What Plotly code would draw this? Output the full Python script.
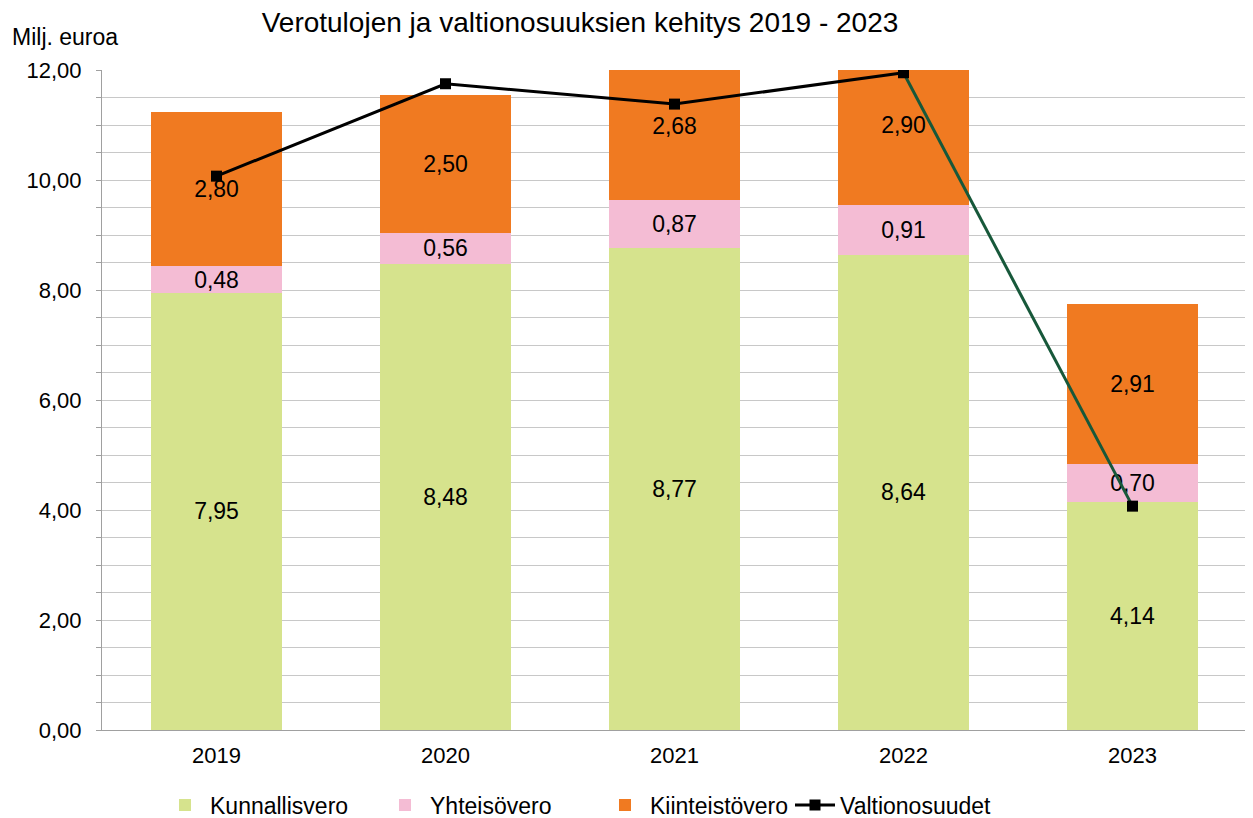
import plotly.graph_objects as go

years = ["2019", "2020", "2021", "2022", "2023"]
kunnallisvero = [7.95, 8.48, 8.77, 8.64, 4.14]
yhteisovero = [0.48, 0.56, 0.87, 0.91, 0.70]
kiinteistovero = [2.80, 2.50, 2.68, 2.90, 2.91]
valtionosuudet = [10.07, 11.75, 11.38, 11.95, 4.07]

def fmt(v):
    return f"{v:.2f}".replace(".", ",")

FONT = "Liberation Sans, Arial, sans-serif"
W, H = 1245, 810  # page body has an 8px margin
fig = go.Figure()
for name, vals, col in [("Kunnallisvero", kunnallisvero, "#d6e38d"),
                        ("Yhteisövero", yhteisovero, "#f4bcd4"),
                        ("Kiinteistövero", kiinteistovero, "#f07a21")]:
    fig.add_trace(go.Bar(x=years, y=vals, name=name, marker=dict(color=col, line=dict(width=0)),
                         text=[fmt(v) for v in vals], textposition="inside",
                         insidetextanchor="middle", textangle=0, constraintext="none",
                         textfont=dict(color="#000000", size=23, family=FONT),
                         hoverinfo="skip", legend="legend"))

fig.add_trace(go.Scatter(x=years[3:], y=valtionosuudet[3:], mode="lines",
                         line=dict(color="#17583a", width=3), showlegend=False, hoverinfo="skip"))
fig.add_trace(go.Scatter(x=years[:4], y=valtionosuudet[:4], mode="lines+markers", name="Valtionosuudet",
                         line=dict(color="#000000", width=3),
                         marker=dict(symbol="square", size=11, color="#000000"), hoverinfo="skip",
                         legend="legend2"))
fig.add_trace(go.Scatter(x=years[4:], y=valtionosuudet[4:], mode="markers", showlegend=False,
                         marker=dict(symbol="square", size=11, color="#000000"), hoverinfo="skip"))

fig.update_layout(
    barmode="stack", bargap=0.432,
    width=W, height=H,
    margin=dict(l=94, r=6, t=62, b=88, autoexpand=False),
    plot_bgcolor="white", paper_bgcolor="white",
    separators=", ",
    font=dict(family=FONT, size=22, color="#000000"),
    title=dict(text="Verotulojen ja valtionosuuksien kehitys 2019 - 2023",
               x=572/W, xanchor="center", xref="container",
               y=1-4/H, yanchor="top", yref="container", pad=dict(t=0, b=0),
               font=dict(size=28, family=FONT, color="#000000")),
    legend=dict(orientation="h", x=(160-102)/1145, xanchor="left", y=-0.1136, yanchor="middle",
                font=dict(size=23, family=FONT), traceorder="normal", itemwidth=40,
                entrywidth=165),
    legend2=dict(orientation="h", x=(790-102)/1145, xanchor="left", y=-0.1136, yanchor="middle",
                 font=dict(size=23, family=FONT), itemwidth=40),
    annotations=[dict(text="Milj. euroa", xref="paper", yref="paper", x=-92/1145, y=(730-37)/660,
                      xanchor="left", yanchor="middle", showarrow=False,
                      font=dict(size=23, family=FONT, color="#000000"))],
)
fig.update_yaxes(range=[0, 12], dtick=2, tickformat=".2f", showgrid=True, gridcolor="#c8c8c8",
                 gridwidth=1, showline=True, linecolor="#a0a0a0", linewidth=1,
                 ticks="outside", ticklen=5, tickcolor="#a0a0a0", ticklabelstandoff=10,
                 minor=dict(dtick=0.5, showgrid=True, gridcolor="#c8c8c8", gridwidth=1,
                            ticks="outside", ticklen=5, tickcolor="#a0a0a0"),
                 zeroline=False, tickfont=dict(size=22), fixedrange=True)
fig.update_xaxes(showline=True, linecolor="#a0a0a0", linewidth=1, ticks="", tickfont=dict(size=22),
                 ticklabelstandoff=6, range=[-0.5, 4.5])

fig.write_html("out.html")
